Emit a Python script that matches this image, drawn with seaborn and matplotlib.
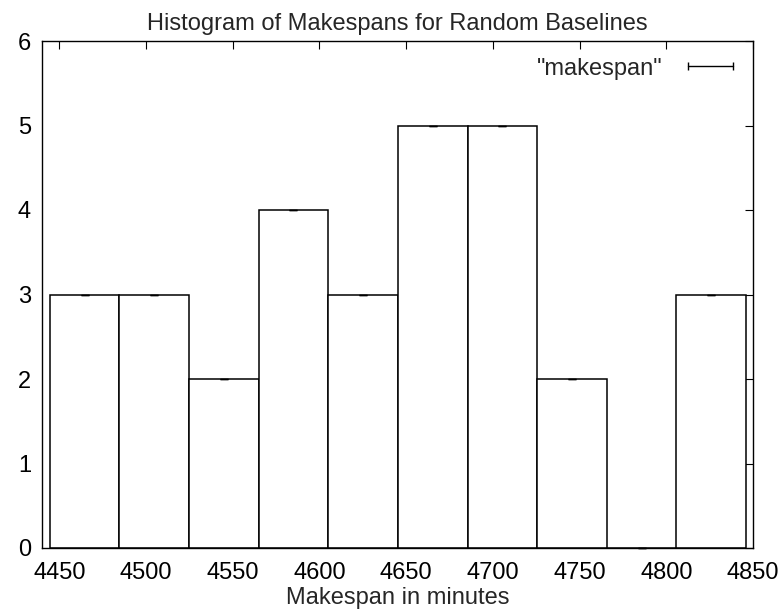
import matplotlib
matplotlib.use("Agg")
import matplotlib.pyplot as plt
import seaborn as sns
import numpy as np
from matplotlib.lines import Line2D

# Data
bin_centers = [4464.6, 4504.7, 4544.9, 4585.0, 4625.2, 4665.3, 4705.5, 4745.6, 4785.8, 4825.9]
counts = [3, 3, 2, 4, 3, 5, 5, 2, 0, 3]
x_ticks = [4450, 4500, 4550, 4600, 4650, 4700, 4750, 4800, 4850]
y_ticks = [0, 1, 2, 3, 4, 5, 6]
title = "Histogram of Makespans for Random Baselines"
xlabel = "Makespan in minutes"
legend_label = '"makespan"'

sns.set_style("white")
plt.rcParams['font.family'] = ['Liberation Sans', 'DejaVu Sans']

W, H = 784, 610
fig = plt.figure(figsize=(W / 100, H / 100), dpi=100)
ax = fig.add_axes([42 / W, 1 - 548 / H, (753 - 42) / W, (548 - 41) / H])

binwidth = 40.15
lo = bin_centers[0] - binwidth / 2
hi = bin_centers[-1] + binwidth / 2
sns.histplot(x=bin_centers, weights=counts, binwidth=binwidth, binrange=(lo, hi),
             color="white", edgecolor="black", linewidth=1.1, alpha=1, ax=ax)

ax.errorbar(bin_centers, counts, yerr=np.zeros(len(counts)), fmt="none",
            ecolor="black", elinewidth=1, capsize=3, capthick=1, clip_on=False)

ax.set_xlim(4440, 4850)
ax.set_ylim(0, 6)
ax.set_xticks(x_ticks)
ax.set_yticks(y_ticks)
ax.tick_params(direction="in", length=6, width=0.8, top=True, right=True,
               labelsize=17, colors="black")
ax.tick_params(axis="x", pad=10)
ax.tick_params(axis="y", pad=8)
for s in ax.spines.values():
    s.set_color("black")
    s.set_linewidth(1.0)

ax.set_title(title, fontsize=17, pad=8)
ax.set_xlabel(xlabel, fontsize=17, labelpad=2)
ax.set_ylabel("")

handle = Line2D([], [], color="black", lw=1, marker="|", markersize=6, markeredgewidth=1)
leg = ax.legend([handle], [legend_label], loc="upper right", frameon=False,
                fontsize=17, numpoints=2, markerfirst=False, handlelength=2.5,
                bbox_to_anchor=(1.005, 1.0), handletextpad=0.8, borderaxespad=0.3)

fig.savefig("out.png", dpi=100)
